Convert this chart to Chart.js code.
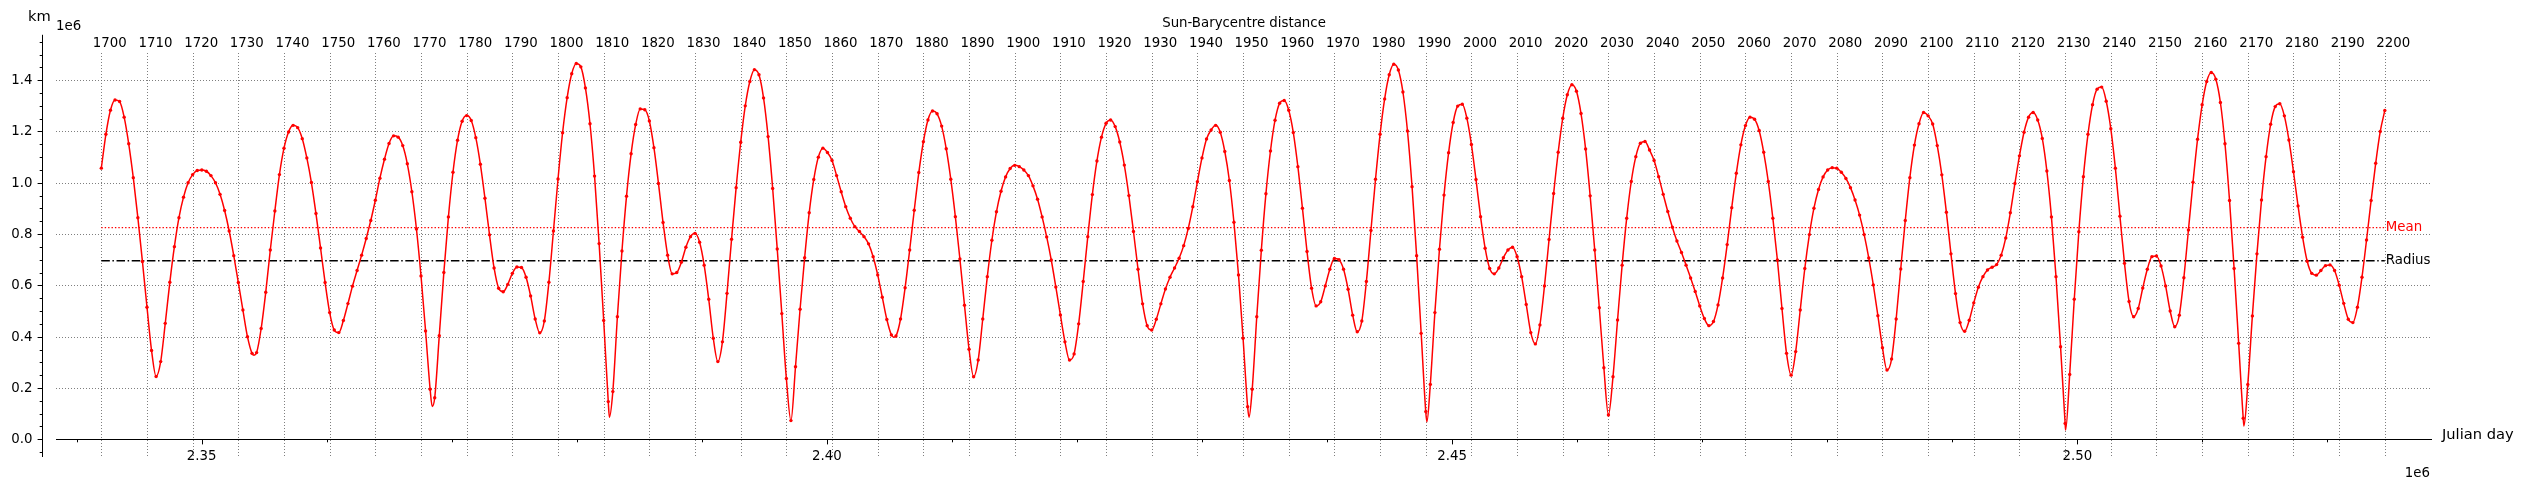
<!DOCTYPE html>
<html>
<head>
<meta charset="utf-8">
<script src="https://cdn.jsdelivr.net/npm/chart.js@4.4.1/dist/chart.umd.min.js"></script>
<style>
  html, body { margin: 0; padding: 0; background: #ffffff; }
  canvas { display: block; }
</style>
</head>
<body>
<canvas id="c" width="2526" height="491"></canvas>
<script>
// ---- Data (distance in units of 1e6 km, one value per year, 1 January) ----
const d1700 = [1.057,1.189,1.283,1.323,1.317,1.256,1.152,1.020,0.864,0.693,
  0.515,0.346,0.245,0.303,0.452,0.612,0.751,0.864,0.944,1.000,
  1.032,1.048,1.050,1.045,1.028,1.000,0.955,0.892,0.812,0.716,
  0.611,0.504,0.400,0.335,0.338,0.432,0.573,0.738,0.890,1.032,
  1.135,1.198,1.224,1.215,1.172,1.097,1.001,0.880,0.746,0.611,
  0.494,0.426,0.416,0.463,0.529,0.597,0.658,0.718,0.783,0.853,
  0.932,1.018,1.092,1.153,1.183,1.178,1.145,1.074,0.965,0.820,
  0.637,0.422,0.195,0.162,0.404,0.650,0.867,1.041,1.166,1.240,
  1.262,1.243,1.176,1.072,0.940,0.797,0.668,0.589,0.575,0.604,
  0.647,0.672,0.670,0.632,0.559,0.469,0.415,0.461,0.612,0.812];
const d1800 = [1.015,1.195,1.332,1.425,1.465,1.452,1.370,1.230,1.026,0.763,
  0.463,0.147,0.186,0.478,0.734,0.948,1.113,1.227,1.288,1.285,
  1.241,1.137,0.997,0.845,0.718,0.645,0.650,0.690,0.749,0.790,
  0.803,0.768,0.679,0.546,0.394,0.303,0.380,0.569,0.780,0.981,
  1.158,1.300,1.395,1.441,1.421,1.331,1.180,0.978,0.742,0.490,
  0.237,0.073,0.283,0.507,0.708,0.883,1.013,1.100,1.135,1.118,
  1.087,1.028,0.965,0.907,0.862,0.829,0.810,0.790,0.762,0.712,
  0.641,0.554,0.467,0.407,0.403,0.469,0.591,0.738,0.893,1.040,
  1.160,1.245,1.280,1.269,1.221,1.133,1.014,0.868,0.703,0.523,
  0.351,0.244,0.309,0.469,0.634,0.776,0.887,0.967,1.023,1.056];
const d1900 = [1.068,1.063,1.050,1.028,0.988,0.936,0.867,0.789,0.699,0.594,
  0.485,0.380,0.309,0.333,0.450,0.615,0.790,0.954,1.085,1.178,
  1.232,1.245,1.219,1.159,1.069,0.950,0.810,0.663,0.528,0.443,
  0.426,0.468,0.528,0.586,0.632,0.668,0.706,0.755,0.822,0.907,
  1.004,1.097,1.171,1.206,1.224,1.197,1.122,1.009,0.846,0.641,
  0.394,0.127,0.195,0.478,0.737,0.957,1.124,1.244,1.310,1.321,
  1.283,1.196,1.063,0.901,0.732,0.589,0.520,0.536,0.598,0.663,
  0.705,0.700,0.663,0.585,0.484,0.419,0.461,0.615,0.814,1.014,
  1.189,1.327,1.421,1.462,1.440,1.354,1.202,0.985,0.716,0.413,
  0.108,0.214,0.494,0.741,0.952,1.117,1.235,1.299,1.306,1.252];
const d2000 = [1.149,1.013,0.868,0.745,0.666,0.645,0.668,0.708,0.738,0.749,
  0.712,0.634,0.526,0.416,0.372,0.446,0.598,0.779,0.958,1.119,
  1.252,1.343,1.382,1.357,1.270,1.132,0.949,0.738,0.513,0.279,
  0.095,0.244,0.465,0.679,0.862,1.005,1.102,1.154,1.161,1.128,
  1.087,1.024,0.955,0.888,0.827,0.773,0.728,0.679,0.629,0.576,
  0.520,0.471,0.443,0.459,0.524,0.629,0.759,0.903,1.037,1.148,
  1.223,1.256,1.248,1.204,1.119,1.005,0.862,0.699,0.510,0.335,
  0.250,0.342,0.504,0.666,0.798,0.901,0.974,1.023,1.050,1.059,
  1.057,1.041,1.017,0.981,0.933,0.874,0.798,0.707,0.602,0.482,
  0.357,0.270,0.313,0.469,0.664,0.853,1.020,1.147,1.230,1.274];
const d2100 = [1.261,1.229,1.145,1.031,0.885,0.723,0.568,0.455,0.421,0.464,
  0.532,0.593,0.634,0.660,0.671,0.681,0.718,0.785,0.883,0.997,
  1.105,1.197,1.256,1.274,1.245,1.173,1.046,0.867,0.634,0.361,
  0.062,0.253,0.546,0.809,1.024,1.189,1.304,1.365,1.373,1.318,
  1.211,1.057,0.870,0.686,0.537,0.478,0.510,0.590,0.663,0.712,
  0.715,0.676,0.598,0.500,0.439,0.484,0.630,0.816,1.002,1.170,
  1.304,1.395,1.430,1.404,1.313,1.152,0.931,0.666,0.374,0.082,
  0.214,0.481,0.723,0.933,1.102,1.228,1.297,1.308,1.261,1.167,
  1.043,0.910,0.788,0.694,0.647,0.640,0.658,0.677,0.680,0.658,
  0.601,0.530,0.468,0.455,0.515,0.632,0.777,0.931,1.076,1.200,
  1.282];
const centuryStarts = [1700, 1800, 1900, 2000, 2100];
const centuryValues = [d1700, d1800, d1900, d2000, d2100];

// sharp minima that fall between yearly samples (curve only, no marker)
const extremaYears  = [1733.45, 1772.45, 1811.25, 1873.55, 1951.3, 1990.25, 2130.1, 2169.15];
const extremaValues = [0.328, 0.128, 0.086, 0.398, 0.086, 0.068, 0.036, 0.052];

const meanValue = 0.825;
const radiusValue = 0.6957;
const refYears = [1700, 2200];

// tick labels
const yearTicks = [1700,1710,1720,1730,1740,1750,1760,1770,1780,1790,
  1800,1810,1820,1830,1840,1850,1860,1870,1880,1890,
  1900,1910,1920,1930,1940,1950,1960,1970,1980,1990,
  2000,2010,2020,2030,2040,2050,2060,2070,2080,2090,
  2100,2110,2120,2130,2140,2150,2160,2170,2180,2190,2200];
const jdMajorTicks = [2.35, 2.40, 2.45, 2.50];            // x 1e6
const jdMajorLabels = ['2.35', '2.40', '2.45', '2.50'];
const jdMinorTicks = [2.34,2.36,2.37,2.38,2.39,2.41,2.42,2.43,2.44,2.46,2.47,2.48,2.49,2.51,2.52];
const yMajorTicks = [0.0, 0.2, 0.4, 0.6, 0.8, 1.0, 1.2, 1.4];
const yMajorLabels = ['0.0', '0.2', '0.4', '0.6', '0.8', '1.0', '1.2', '1.4'];
const yMinorTicks = [-0.05,0.05,0.1,0.15,0.25,0.3,0.35,0.45,0.5,0.55,0.65,0.7,0.75,0.85,0.9,0.95,1.05,1.1,1.15,1.25,1.3,1.35,1.45,1.5,1.55];

// ---- helpers ----
function yearToJD(yr) { return 2341972.5 + (yr - 1700) * 365.2425; }

const distPoints = [];
centuryValues.forEach((arr, k) => {
  arr.forEach((v, i) => distPoints.push({ x: yearToJD(centuryStarts[k] + i), y: v, m: true }));
});
extremaYears.forEach((yr, i) => distPoints.push({ x: yearToJD(yr), y: extremaValues[i], m: false }));
distPoints.sort((a, b) => a.x - b.x);

const FONT = "'DejaVu Sans', 'Liberation Sans', sans-serif";

function seg(ctx, x1, y1, x2, y2) { ctx.beginPath(); ctx.moveTo(x1, y1); ctx.lineTo(x2, y2); ctx.stroke(); }

const mplAxes = {
  id: 'mplAxes',
  beforeDatasetsDraw(chart) {
    const { ctx, chartArea: a, scales: { x, y } } = chart;
    ctx.save();
    ctx.strokeStyle = 'rgba(105,105,105,0.85)';
    ctx.lineWidth = 1;
    ctx.setLineDash([1, 2]);
    yMajorTicks.forEach(v => {
      if (v === 0) return;
      const py = Math.round(y.getPixelForValue(v)) + 0.5;
      seg(ctx, a.left, py, a.right, py);
    });
    yearTicks.forEach(yr => {
      const px = Math.round(x.getPixelForValue(yearToJD(yr))) + 0.5;
      seg(ctx, px, a.top, px, a.bottom);
    });
    ctx.restore();
  },
  afterDatasetsDraw(chart) {
    const { ctx, chartArea: a, scales: { x, y } } = chart;
    ctx.save();
    ctx.setLineDash([]);
    ctx.strokeStyle = '#000';
    ctx.fillStyle = '#000';

    // left spine (detached)
    const sx = Math.round(a.left - 14) + 0.5;
    ctx.lineWidth = 1;
    seg(ctx, sx, y.getPixelForValue(1.577), sx, a.bottom);
    yMajorTicks.forEach(v => { const py = Math.round(y.getPixelForValue(v)) + 0.5; seg(ctx, sx - 4.9, py, sx, py); });
    yMinorTicks.forEach(v => { const py = Math.round(y.getPixelForValue(v)) + 0.5; seg(ctx, sx - 2.8, py, sx, py); });
    ctx.font = '13.33px ' + FONT;
    ctx.textAlign = 'right';
    ctx.textBaseline = 'middle';
    yMajorTicks.forEach((v, i) => ctx.fillText(yMajorLabels[i], sx - 10, y.getPixelForValue(v) + 0.5));

    // x axis through zero
    const y0 = Math.round(y.getPixelForValue(0)) + 0.5;
    ctx.lineWidth = 1.2;
    seg(ctx, a.left, y0, a.right, y0);
    ctx.lineWidth = 1;
    jdMajorTicks.forEach(t => { const px = Math.round(x.getPixelForValue(t * 1e6)) + 0.5; seg(ctx, px, y0, px, y0 + 4.9); });
    jdMinorTicks.forEach(t => { const px = Math.round(x.getPixelForValue(t * 1e6)) + 0.5; seg(ctx, px, y0, px, y0 + 2.8); });
    ctx.textAlign = 'center';
    ctx.textBaseline = 'top';
    jdMajorTicks.forEach((t, i) => ctx.fillText(jdMajorLabels[i], x.getPixelForValue(t * 1e6), y0 + 10));

    // top year labels
    ctx.textBaseline = 'middle';
    yearTicks.forEach(yr => ctx.fillText(String(yr), x.getPixelForValue(yearToJD(yr)) + 8.5, a.top - 9.7));

    // title
    ctx.fillText('Sun-Barycentre distance', (a.left + a.right) / 2, 24);

    // axis labels / offsets
    ctx.font = '14.67px ' + FONT;
    ctx.fillText('km', 39.5, 16.7);
    ctx.font = '13.33px ' + FONT;
    ctx.fillText('1e6', 68.7, 27);
    ctx.textAlign = 'left';
    ctx.font = '14.67px ' + FONT;
    ctx.fillText('Julian day', a.right + 10, y0 - 4);
    ctx.textAlign = 'right';
    ctx.font = '13.33px ' + FONT;
    ctx.fillText('1e6', a.right - 2, 474);

    // reference-line labels
    ctx.textAlign = 'left';
    const xEnd = x.getPixelForValue(yearToJD(refYears[1])) + 1;
    ctx.fillStyle = '#ff0000';
    ctx.fillText('Mean', xEnd, y.getPixelForValue(meanValue));
    ctx.fillStyle = '#000';
    ctx.fillText('Radius', xEnd, y.getPixelForValue(radiusValue));
    ctx.restore();
  }
};

new Chart(document.getElementById('c'), {
  type: 'line',
  data: {
    datasets: [
      {
        label: 'distance',
        data: distPoints,
        borderColor: '#ff0000',
        backgroundColor: '#ff0000',
        borderWidth: 1.5,
        pointRadius: ctx => (ctx.raw && ctx.raw.m ? 1.7 : 0),
        pointBorderWidth: 0,
        pointBackgroundColor: '#ff0000',
        cubicInterpolationMode: 'monotone',
        fill: false,
        order: 0
      },
      {
        label: 'Mean',
        data: refYears.map(yr => ({ x: yearToJD(yr), y: meanValue })),
        borderColor: '#ff0000',
        borderWidth: 1.3,
        borderDash: [1.4, 2.0],
        pointRadius: 0,
        fill: false,
        order: 1
      },
      {
        label: 'Radius',
        data: refYears.map(yr => ({ x: yearToJD(yr), y: radiusValue })),
        borderColor: '#000000',
        borderWidth: 1.5,
        borderDash: [8.5, 2.6, 1.5, 2.6],
        pointRadius: 0,
        fill: false,
        order: 2
      }
    ]
  },
  options: {
    responsive: false,
    animation: false,
    devicePixelRatio: 1,
    layout: { padding: { left: 56, right: 94, top: 53, bottom: 34 } },
    plugins: { legend: { display: false }, tooltip: { enabled: false }, title: { display: false } },
    scales: {
      x: { type: 'linear', min: 2338348, max: 2528367, display: false },
      y: { type: 'linear', min: -0.069, max: 1.506, display: false }
    }
  },
  plugins: [mplAxes]
});
</script>
</body>
</html>
